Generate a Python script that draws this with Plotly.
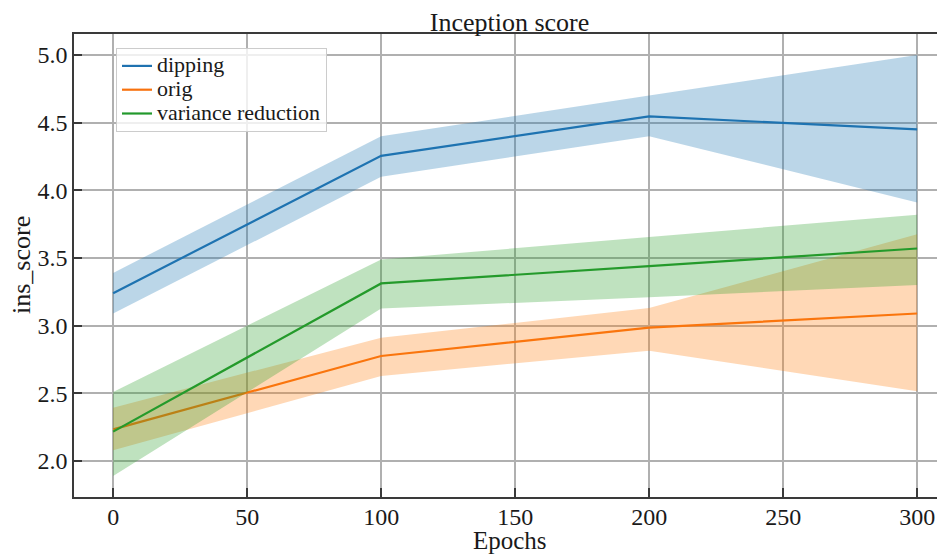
import plotly.graph_objects as go

epochs = [0, 100, 200, 300]

dipping_mean = [3.24, 4.255, 4.546, 4.45]
dipping_upper = [3.39, 4.40, 4.70, 5.00]
dipping_lower = [3.09, 4.10, 4.40, 3.91]

orig_mean = [2.234, 2.776, 2.985, 3.09]
orig_upper = [2.394, 2.911, 3.13, 3.675]
orig_lower = [2.079, 2.628, 2.815, 2.515]

vr_mean = [2.217, 3.312, 3.44, 3.57]
vr_upper = [2.51, 3.489, 3.655, 3.82]
vr_lower = [1.89, 3.127, 3.21, 3.30]

series_names = ["dipping", "orig", "variance reduction"]
x_ticks = [0, 50, 100, 150, 200, 250, 300]
y_ticks = [2.0, 2.5, 3.0, 3.5, 4.0, 4.5, 5.0]

series = [
    (series_names[0], dipping_mean, dipping_upper, dipping_lower, "#1f72b0", "rgba(31,119,180,0.3)"),
    (series_names[1], orig_mean, orig_upper, orig_lower, "#f8720e", "rgba(255,127,14,0.3)"),
    (series_names[2], vr_mean, vr_upper, vr_lower, "#22992c", "rgba(44,160,44,0.3)"),
]

# the page body has an 8px margin; the figure is sized so it ends at the window edge
PAGE_OFF = 8
W, H = 945 - PAGE_OFF, 555 - PAGE_OFF

fig = go.Figure()
for name, mean, upper, lower, color, fillc in series:
    fig.add_trace(go.Scatter(
        x=epochs, y=mean, mode="lines",
        name=f'<span style="font-size:22px">{name}</span>',
        line=dict(color=color, width=2.2),
    ))
    fig.add_trace(go.Scatter(
        x=epochs + epochs[::-1], y=upper + lower[::-1],
        mode="lines", fill="toself", fillcolor=fillc,
        line=dict(width=0), showlegend=False, hoverinfo="skip",
    ))

font_family = "Liberation Serif"
axis_col = "#3a3a3a"
grid_col = "#b0b0b0"
text_col = "#1a1a1a"

ml, mt, mb = 74 - PAGE_OFF, 34 - PAGE_OFF, 58
plot_w = W - ml
plot_h = H - mt - mb

fig.update_layout(
    width=W, height=H,
    margin=dict(l=ml, r=0, t=mt, b=mb, autoexpand=False),
    paper_bgcolor="white", plot_bgcolor="white",
    font=dict(family=font_family, size=24, color=text_col),
    title=dict(text="Inception score", x=(ml + W) / 2 / W, xanchor="center",
               y=1 - (22 - PAGE_OFF) / H, yanchor="middle", yref="container",
               font=dict(family=font_family, size=26, color=text_col)),
    legend=dict(x=(116 - 74) / plot_w, y=1 - (48 - 34) / plot_h, xanchor="left", yanchor="top",
                bgcolor="rgba(255,255,255,0.8)", bordercolor="#cccccc", borderwidth=1,
                font=dict(family=font_family, size=16, color=text_col),
                tracegroupgap=0, itemwidth=30),
    showlegend=True,
    annotations=[
        dict(text="Epochs", xref="paper", yref="paper", x=0.5, y=-(540.5 - 497) / plot_h,
             xanchor="center", yanchor="middle", showarrow=False,
             font=dict(family=font_family, size=25, color=text_col)),
        dict(text="ins_score", xref="paper", yref="paper", x=-(74 - 21.5) / plot_w, y=0.5,
             xanchor="center", yanchor="middle", showarrow=False, textangle=-90,
             font=dict(family=font_family, size=26, color=text_col)),
    ],
)

fig.update_xaxes(
    range=[-14.6, 310.4], tickvals=x_ticks, ticktext=[str(v) for v in x_ticks],
    showgrid=True, gridcolor=grid_col, gridwidth=1.5,
    showline=True, linecolor=axis_col, linewidth=1.5, mirror=True,
    ticks="inside", ticklen=9, tickwidth=1.5, tickcolor=axis_col,
    ticklabelstandoff=-3,
    zeroline=False, automargin=False,
)
fig.update_yaxes(
    range=[1.734, 5.155], tickvals=y_ticks, ticktext=[f"{v:.1f}" for v in y_ticks],
    showgrid=True, gridcolor=grid_col, gridwidth=1.5,
    showline=True, linecolor=axis_col, linewidth=1.5, mirror=False,
    ticks="inside", ticklen=8, tickwidth=1.5, tickcolor=axis_col,
    zeroline=False, automargin=False,
)

fig.write_html("out.html")
